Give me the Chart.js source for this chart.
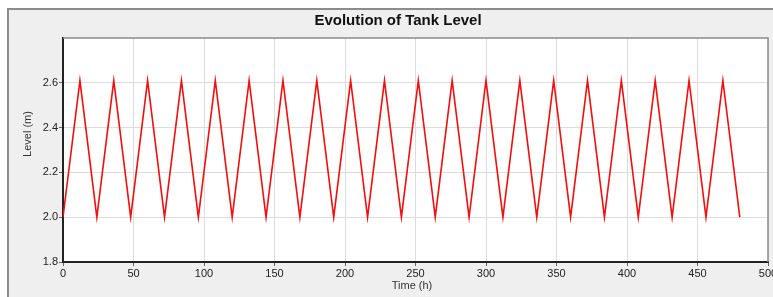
<!DOCTYPE html>
<html>
<head>
<meta charset="utf-8">
<script src="https://cdn.jsdelivr.net/npm/chart.js@4"></script>
<style>
  html, body { margin: 0; padding: 0; background: #fff; }
  #wrap { width: 773px; height: 297px; position: relative; }
</style>
</head>
<body>
<div id="wrap"><canvas id="tank_chart" width="773" height="297"></canvas></div>
<script>
const chartTitle = "Evolution of Tank Level";
const xTitle = "Time (h)";
const yTitle = "Level (m)";

// time (h) and tank level (m)
const timeHours = [
  0, 12, 24, 36, 48, 60, 72, 84, 96, 108, 120, 132, 144, 156, 168, 180, 192,
  204, 216, 228, 240, 252, 264, 276, 288, 300, 312, 324, 336, 348, 360, 372,
  384, 396, 408, 420, 432, 444, 456, 468, 480,
];
const levelM = [
  2.0, 2.61, 2.0, 2.61, 2.0, 2.61, 2.0, 2.61, 2.0, 2.61, 2.0, 2.61, 2.0, 2.61,
  2.0, 2.61, 2.0, 2.61, 2.0, 2.61, 2.0, 2.61, 2.0, 2.61, 2.0, 2.61, 2.0, 2.61,
  2.0, 2.61, 2.0, 2.61, 2.0, 2.61, 2.0, 2.61, 2.0, 2.61, 2.0, 2.61, 2.0,
];
const xTicks = [0, 50, 100, 150, 200, 250, 300, 350, 400, 450, 500];
const yTicks = [1.8, 2.0, 2.2, 2.4, 2.6];

const points = timeHours.map((t, i) => ({ x: t, y: levelM[i] }));

// grey panel, white plot box, title and axis titles
const panel = {
  id: "panel",
  beforeDraw(chart) {
    const c = chart.ctx;
    const a = chart.chartArea;
    c.save();
    c.fillStyle = "#fff";
    c.fillRect(0, 0, chart.width, chart.height);
    c.fillStyle = "#efefef";
    c.fillRect(8, 9, chart.width, chart.height);
    c.strokeStyle = "#8c8c8c";
    c.lineWidth = 2;
    c.beginPath();
    c.moveTo(8, chart.height);
    c.lineTo(8, 9);
    c.lineTo(chart.width, 9);
    c.stroke();
    c.fillStyle = "#fff";
    c.fillRect(a.left, a.top, a.right - a.left, a.bottom - a.top);

    c.fillStyle = "#111";
    c.textAlign = "center";
    c.textBaseline = "middle";
    c.font = "bold 15px 'Liberation Sans', Arial, sans-serif";
    c.fillText(chartTitle, 398, 21);
    c.fillStyle = "#333";
    c.font = "11px 'Liberation Sans', Arial, sans-serif";
    c.fillText(xTitle, 412, 286);
    c.translate(28, 134);
    c.rotate(-Math.PI / 2);
    c.fillText(yTitle, 0, 0);
    c.restore();
  },
  afterDatasetsDraw(chart) {
    const c = chart.ctx;
    const a = chart.chartArea;
    c.save();
    c.strokeStyle = "#8a8a8a";
    c.lineWidth = 1.5;
    c.beginPath();
    c.moveTo(a.left, a.top);
    c.lineTo(a.right, a.top);
    c.lineTo(a.right, a.bottom);
    c.stroke();
    c.restore();
  },
};

const ctx = document.getElementById("tank_chart");

const tank_chart = new Chart(ctx, {
  type: "line",
  data: {
    datasets: [
      {
        data: points,
        borderColor: "#ee1111",
        borderWidth: 1.6,
        pointRadius: 0,
        tension: 0,
        fill: false,
      },
    ],
  },
  options: {
    responsive: false,
    animation: false,
    layout: { padding: { left: 8, right: 5, top: 38, bottom: 0 } },
    plugins: {
      legend: { display: false },
      tooltip: { enabled: false },
    },
    scales: {
      x: {
        type: "linear",
        min: 0,
        max: 500,
        afterBuildTicks: (s) => { s.ticks = xTicks.map((v) => ({ value: v })); },
        ticks: {
          color: "#222",
          font: { size: 11, family: "'Liberation Sans', Arial, sans-serif" },
          padding: 1,
          maxRotation: 0,
          autoSkip: false,
        },
        grid: { color: "#dcdcdc", tickColor: "#666", tickLength: 4 },
        border: { color: "#222", width: 2 },
        afterFit: (s) => {
          s.height = 35;
          s.paddingRight = 0;
          s.paddingLeft = 0;
        },
      },
      y: {
        min: 1.8,
        max: 2.8,
        afterBuildTicks: (s) => { s.ticks = yTicks.map((v) => ({ value: v })); },
        ticks: {
          color: "#222",
          font: { size: 11, family: "'Liberation Sans', Arial, sans-serif" },
          padding: 1,
          callback: (v) => v.toFixed(1),
        },
        grid: { color: "#dcdcdc", tickColor: "#666", tickLength: 4 },
        border: { color: "#222", width: 2 },
        afterFit: (s) => {
          s.width = 55;
          s.paddingTop = 0;
          s.paddingBottom = 0;
        },
      },
    },
  },
  plugins: [panel],
});
</script>
</body>
</html>
